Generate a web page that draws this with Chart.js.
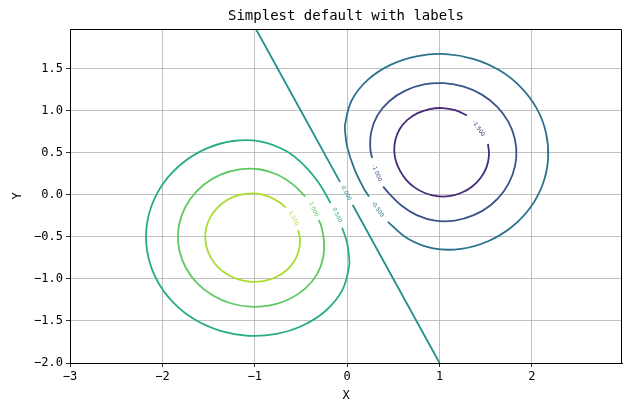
<!DOCTYPE html>
<html>
<head>
<meta charset="utf-8">
<script src="https://cdn.jsdelivr.net/npm/chart.js@4/dist/chart.umd.min.js"></script>
<style>
  body { margin: 0; background: #fff; }
  canvas { display: block; }
</style>
</head>
<body>
<canvas id="chart" width="640" height="409"></canvas>
<script>
// niveaux et couleurs des contours
const levels = [-1.5, -1.0, -0.5, 0.0, 0.5, 1.0, 1.5];
const levelColors = ['#472a7a', '#3b528b', '#2c728e', '#21918c', '#27ad81', '#5ec962', '#aadc32'];

// graduations
const xTicks = [-3, -2, -1, 0, 1, 2];
const xTickLabels = ['\u22123', '\u22122', '\u22121', '0', '1', '2'];
const yTicks = [-2, -1.5, -1, -0.5, 0, 0.5, 1, 1.5];
const yTickLabels = ['\u22122.0', '\u22121.5', '\u22121.0', '\u22120.5', '0.0', '0.5', '1.0', '1.5'];

// contours [x, y]
const contourM15 = [[1.525,0.608],[1.535,0.468],[1.509,0.331],[1.446,0.205],[1.354,0.101],[1.237,0.026],[1.105,-0.014],[0.969,-0.015],[0.841,0.023],[0.729,0.090],[0.639,0.179],[0.573,0.286],[0.527,0.403],[0.510,0.529],[0.523,0.659],[0.569,0.784],[0.652,0.893],[0.763,0.974],[0.893,1.022],[1.032,1.034],[1.169,1.009],[1.295,0.947]];
const contourM10 = [[0.39,0.10],[0.454,0.016],[0.587,-0.126],[0.753,-0.240],[0.952,-0.306],[1.165,-0.305],[1.370,-0.241],[1.552,-0.122],[1.694,0.042],[1.789,0.237],[1.831,0.450],[1.815,0.667],[1.744,0.872],[1.622,1.052],[1.458,1.194],[1.263,1.289],[1.050,1.330],[0.833,1.315],[0.630,1.241],[0.455,1.115],[0.327,0.945],[0.260,0.747],[0.251,0.545],[0.27,0.44]];
const contourM05 = [[0.44,-0.32],[0.659,-0.522],[0.932,-0.636],[1.234,-0.642],[1.525,-0.551],[1.781,-0.381],[1.983,-0.149],[2.117,0.128],[2.175,0.430],[2.153,0.736],[2.053,1.027],[1.881,1.281],[1.649,1.483],[1.372,1.617],[1.070,1.676],[0.764,1.653],[0.475,1.551],[0.226,1.372],[0.050,1.127],[-0.022,0.841],[-0.021,0.744],[0.003,0.560],[0.078,0.311],[0.175,0.088],[0.236,-0.02]];
const contourZeroA = [[-0.9875,1.975],[-0.0775,0.155]];
const contourZeroB = [[0.06,-0.12],[1.0,-2.0]];
const contourP05 = [[-0.054,-0.39],[-0.003,-0.560],[0.021,-0.744],[0.022,-0.841],[-0.050,-1.127],[-0.226,-1.372],[-0.475,-1.551],[-0.764,-1.653],[-1.070,-1.676],[-1.372,-1.617],[-1.649,-1.483],[-1.881,-1.281],[-2.053,-1.027],[-2.153,-0.736],[-2.175,-0.430],[-2.117,-0.128],[-1.983,0.149],[-1.781,0.381],[-1.525,0.551],[-1.234,0.642],[-0.932,0.636],[-0.659,0.522],[-0.450,0.334],[-0.296,0.125],[-0.18,-0.095]];
const contourP10 = [[-0.31,-0.30],[-0.285,-0.354],[-0.251,-0.545],[-0.260,-0.747],[-0.327,-0.945],[-0.455,-1.115],[-0.630,-1.241],[-0.833,-1.315],[-1.050,-1.330],[-1.263,-1.289],[-1.458,-1.194],[-1.622,-1.052],[-1.744,-0.872],[-1.815,-0.667],[-1.831,-0.450],[-1.789,-0.237],[-1.694,-0.042],[-1.552,0.122],[-1.370,0.241],[-1.165,0.305],[-0.952,0.306],[-0.753,0.240],[-0.587,0.126],[-0.454,-0.016]];
const contourP15 = [[-0.53,-0.42],[-0.510,-0.529],[-0.523,-0.659],[-0.569,-0.784],[-0.652,-0.893],[-0.763,-0.974],[-0.893,-1.022],[-1.032,-1.034],[-1.169,-1.009],[-1.295,-0.947],[-1.401,-0.856],[-1.479,-0.740],[-1.525,-0.608],[-1.535,-0.468],[-1.509,-0.331],[-1.446,-0.205],[-1.354,-0.101],[-1.237,-0.026],[-1.105,0.014],[-0.969,0.015],[-0.841,-0.023],[-0.729,-0.090],[-0.665,-0.15]];

// chaque tracé avec l'indice de son niveau
const contourPaths = [contourM15, contourM10, contourM05, contourZeroA, contourZeroB, contourP05, contourP10, contourP15];
const contourLevelIdx = [0, 1, 2, 3, 3, 4, 5, 6];

// étiquettes des contours
const labelText = ['-1.500', '-1.000', '-0.500', '0.000', '0.500', '1.000', '1.500'];
const labelX = [1.42, 0.32, 0.33, -0.01, -0.11, -0.365, -0.58];
const labelY = [0.79, 0.26, -0.17, 0.02, -0.24, -0.17, -0.28];
const labelRot = [56, 68, 55, 61, 65, 65, 63];

const monoFont = "'DejaVu Sans Mono', monospace";

const datasets = contourPaths.map((path, i) => ({
    data: path.map(p => ({ x: p[0], y: p[1] })),
    showLine: true,
    borderColor: levelColors[contourLevelIdx[i]],
    borderWidth: 1.8,
    pointRadius: 0,
    tension: 0.4,
    fill: false,
}));

// titre, noms d'axes, cadre et étiquettes
const decorations = {
    id: 'decorations',
    afterDatasetsDraw(chart) {
        const ctx = chart.ctx;
        const area = chart.chartArea;
        const xs = chart.scales.x;
        const ys = chart.scales.y;

        // étiquettes des niveaux
        labelText.forEach((t, i) => {
            ctx.save();
            ctx.translate(xs.getPixelForValue(labelX[i]), ys.getPixelForValue(labelY[i]));
            ctx.rotate(labelRot[i] * Math.PI / 180);
            ctx.font = "5.5px 'DejaVu Sans'";
            ctx.fillStyle = levelColors[i];
            ctx.textAlign = 'center';
            ctx.textBaseline = 'middle';
            ctx.fillText(t, 0, 0);
            ctx.restore();
        });

        // cadre haut et droit
        ctx.save();
        ctx.strokeStyle = '#000';
        ctx.lineWidth = 1;
        ctx.beginPath();
        ctx.moveTo(area.left, area.top + 0.5);
        ctx.lineTo(area.right - 0.5, area.top + 0.5);
        ctx.lineTo(area.right - 0.5, area.bottom);
        ctx.stroke();

        // titre
        ctx.fillStyle = '#000';
        ctx.textAlign = 'center';
        ctx.textBaseline = 'middle';
        ctx.font = '14px ' + monoFont;
        ctx.fillText('Simplest default with labels', (area.left + area.right) / 2, 16);

        // noms des axes
        ctx.font = '12px ' + monoFont;
        ctx.fillText('X', (area.left + area.right) / 2, 396);
        ctx.translate(18, (area.top + area.bottom) / 2);
        ctx.rotate(-Math.PI / 2);
        ctx.fillText('Y', 0, 0);
        ctx.restore();
    }
};

new Chart(document.getElementById('chart'), {
    type: 'scatter',
    data: { datasets: datasets },
    options: {
        responsive: false,
        animation: false,
        devicePixelRatio: 1,
        layout: { padding: { top: 29, right: 18, left: 0, bottom: 0 } },
        plugins: {
            legend: { display: false },
            tooltip: { enabled: false },
        },
        scales: {
            x: {
                type: 'linear',
                min: -3,
                max: 2.975,
                afterBuildTicks: (scale) => { scale.ticks = xTicks.map(v => ({ value: v })); },
                afterFit: (scale) => { scale.height = 46; },
                ticks: {
                    callback: (v, i) => xTickLabels[i],
                    font: { family: monoFont, size: 12 },
                    color: '#000',
                    padding: 3,
                    maxRotation: 0,
                },
                grid: { color: '#b0b0b0', lineWidth: 0.8, tickColor: '#000', tickLength: 4 },
                border: { color: '#000', width: 1 },
            },
            y: {
                type: 'linear',
                min: -2,
                max: 1.975,
                afterBuildTicks: (scale) => { scale.ticks = yTicks.map(v => ({ value: v })); },
                afterFit: (scale) => { scale.width = 70; },
                ticks: {
                    callback: (v, i) => yTickLabels[i],
                    font: { family: monoFont, size: 12 },
                    color: '#000',
                    padding: 3,
                },
                grid: { color: '#b0b0b0', lineWidth: 0.8, tickColor: '#000', tickLength: 4 },
                border: { color: '#000', width: 1 },
            }
        }
    },
    plugins: [decorations]
});
</script>
</body>
</html>
